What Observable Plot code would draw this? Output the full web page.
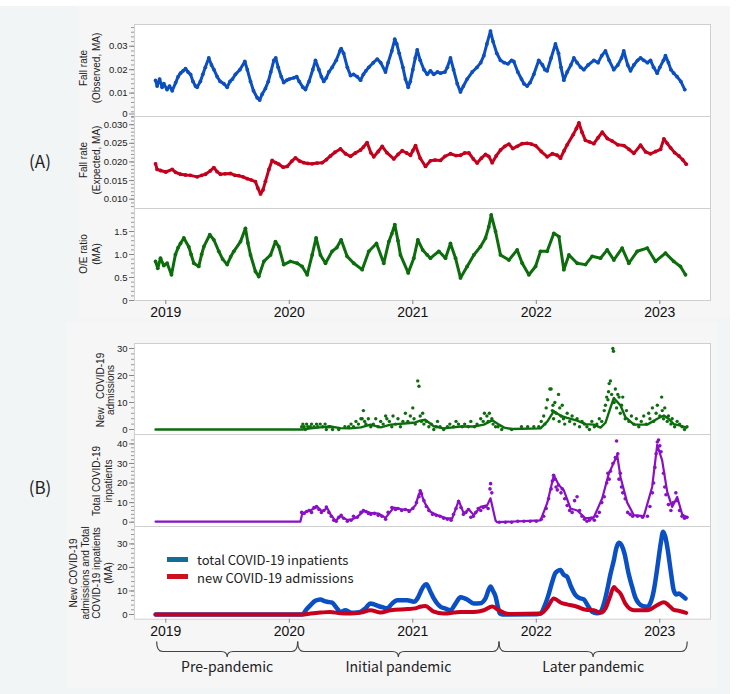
<!DOCTYPE html>
<html><head><meta charset="utf-8">
<script src="https://cdn.jsdelivr.net/npm/d3@7"></script>
<script src="https://cdn.jsdelivr.net/npm/@observablehq/plot@0.6"></script>
<style>
body{margin:0;background:#fff;}
#root{position:relative;width:738px;height:694px;overflow:hidden;background:#fff;font-family:"Liberation Sans",Arial,sans-serif;}
.bg{position:absolute;}
.plot{position:absolute;left:0;}
.ylab{position:absolute;transform:translate(-50%,-50%) rotate(-90deg);text-align:center;font-size:10px;line-height:13px;white-space:pre;color:#222;}
.panelLab{position:absolute;transform:translate(-50%,-50%);font-family:"Noto Sans CJK JP",sans-serif;font-size:17px;color:#222;}
.leg{position:absolute;font-family:"Noto Sans CJK JP",sans-serif;font-size:13px;color:#222;white-space:nowrap;transform:translateY(-50%);}
.sw{position:absolute;width:21px;height:5px;}
</style></head>
<body><div id="root">
<div class="bg" style="left:0;top:6px;width:730px;height:688px;background:#f1f5f5"></div>
<div class="bg" style="left:78px;top:6px;width:652px;height:312px;background:#f6f6f6"></div>
<div class="bg" style="left:67px;top:322px;width:650px;height:366px;background:#f6f6f6"></div>
</div>
<script>
// ---------------- DATA (time as decimal year) ----------------
const yearTicks = [2019, 2020, 2021, 2022, 2023];

// Fall rate (Observed, MA), per mille
const obsFallPerMille = [[2018.917,15.4],[2018.93,13],[2018.95,16],[2018.97,12.5],[2018.984,14],[2019.01,11.5],[2019.03,13],[2019.052,11],[2019.08,14.5],[2019.10,17],[2019.119,18.5],[2019.14,19.5],[2019.16,20.4],[2019.18,19],[2019.20,18],[2019.22,15],[2019.24,13],[2019.254,12.5],[2019.28,15],[2019.30,18],[2019.32,21],[2019.348,25],[2019.37,22],[2019.39,20],[2019.416,17],[2019.44,15],[2019.47,14],[2019.497,12.5],[2019.52,15],[2019.54,16],[2019.564,18],[2019.60,20],[2019.64,23.5],[2019.66,20],[2019.686,15],[2019.71,11],[2019.74,8],[2019.76,7],[2019.78,9.5],[2019.807,12],[2019.83,15],[2019.85,19],[2019.875,24],[2019.89,25],[2019.91,21],[2019.935,17],[2019.955,14.5],[2019.98,15.5],[2020.00,16],[2020.036,16.5],[2020.06,17],[2020.08,15],[2020.11,12.5],[2020.131,11.5],[2020.16,15],[2020.19,20],[2020.212,24],[2020.24,20],[2020.26,17],[2020.279,15],[2020.30,16.5],[2020.32,19],[2020.347,21],[2020.38,24],[2020.41,28],[2020.42,29],[2020.44,27],[2020.47,21],[2020.496,17.5],[2020.52,18],[2020.55,17],[2020.577,15.5],[2020.60,18],[2020.62,19.5],[2020.644,21],[2020.68,23],[2020.712,24.5],[2020.74,23],[2020.779,19],[2020.80,23],[2020.83,28],[2020.854,33],[2020.87,31],[2020.89,27],[2020.92,21],[2020.94,16],[2020.963,12.5],[2020.98,15],[2021.00,20],[2021.02,25],[2021.036,28.5],[2021.06,24],[2021.09,20],[2021.117,18],[2021.143,19.5],[2021.17,18],[2021.20,19],[2021.224,18.5],[2021.26,19],[2021.28,21],[2021.305,25],[2021.33,20],[2021.36,14],[2021.386,10.5],[2021.41,13],[2021.44,16],[2021.481,19],[2021.52,21],[2021.55,23],[2021.575,26],[2021.60,31],[2021.629,36.5],[2021.65,32],[2021.68,27],[2021.71,24],[2021.74,23],[2021.77,22.5],[2021.80,24],[2021.818,23.5],[2021.85,19],[2021.88,16],[2021.90,14],[2021.926,13],[2021.95,14.5],[2021.98,18],[2022.02,24],[2022.05,22],[2022.07,20],[2022.088,19.5],[2022.12,25],[2022.155,31],[2022.18,27],[2022.20,21],[2022.223,15.5],[2022.25,19],[2022.28,22],[2022.304,25],[2022.33,23],[2022.36,21],[2022.385,20],[2022.42,22],[2022.466,24],[2022.50,23],[2022.53,26],[2022.56,28],[2022.59,24],[2022.627,20],[2022.66,22],[2022.69,25],[2022.708,28],[2022.74,22],[2022.763,19.5],[2022.79,22],[2022.82,24],[2022.844,25],[2022.87,24],[2022.90,23],[2022.925,24],[2022.95,21],[2022.979,18.5],[2023.00,21],[2023.03,24],[2023.046,26],[2023.07,23],[2023.09,20],[2023.113,18.5],[2023.14,17],[2023.17,15],[2023.202,11.5]];

// Fall rate (Expected, MA), per mille
const expFallPerMille = [[2018.917,19.5],[2018.93,18],[2018.957,17.7],[2019.00,17.3],[2019.052,18.0],[2019.08,17.2],[2019.119,16.7],[2019.16,16.5],[2019.200,16.4],[2019.254,16.0],[2019.29,16.4],[2019.321,16.7],[2019.36,17.6],[2019.389,18.5],[2019.415,17.4],[2019.443,16.7],[2019.48,16.8],[2019.524,16.9],[2019.56,16.4],[2019.591,16.3],[2019.625,16],[2019.659,15.5],[2019.69,15.2],[2019.726,14.7],[2019.745,13],[2019.767,11.4],[2019.787,12.5],[2019.807,14.8],[2019.835,18],[2019.861,20.4],[2019.89,19.8],[2019.915,19.4],[2019.95,18.6],[2019.983,18.8],[2020.02,20.2],[2020.050,21.1],[2020.085,20.2],[2020.117,19.8],[2020.15,19.6],[2020.185,19.5],[2020.225,19.7],[2020.266,19.8],[2020.30,20.6],[2020.333,21.6],[2020.37,22.6],[2020.414,23.5],[2020.455,22.2],[2020.496,21.5],[2020.535,22.4],[2020.577,23.2],[2020.60,24],[2020.630,25.2],[2020.66,22.5],[2020.684,21.4],[2020.72,22.8],[2020.752,24.2],[2020.79,22.5],[2020.846,20.8],[2020.88,22],[2020.914,23],[2020.95,22.4],[2020.981,21.8],[2021.00,23.0],[2021.022,24.4],[2021.06,21],[2021.103,18.8],[2021.143,20.3],[2021.18,20.5],[2021.224,20.4],[2021.26,21.5],[2021.305,22.2],[2021.35,21.7],[2021.386,21.8],[2021.42,22.4],[2021.454,22.4],[2021.49,20.8],[2021.521,19.7],[2021.555,21],[2021.589,22],[2021.615,21.5],[2021.643,19.8],[2021.675,21.6],[2021.710,23.2],[2021.745,24.2],[2021.778,24.8],[2021.81,23.6],[2021.845,24.2],[2021.885,24.9],[2021.926,25.0],[2021.96,24.8],[2021.994,24.4],[2022.04,22.8],[2022.088,21.4],[2022.13,22.2],[2022.169,21.8],[2022.196,21.0],[2022.225,23],[2022.250,24.6],[2022.30,27.4],[2022.325,29],[2022.345,30.5],[2022.37,28],[2022.398,25.8],[2022.43,25.4],[2022.466,24.9],[2022.50,26.5],[2022.534,28],[2022.575,26.3],[2022.615,25.6],[2022.66,24.6],[2022.709,24.4],[2022.75,23.4],[2022.790,22.3],[2022.844,24.5],[2022.885,22.7],[2022.925,22.2],[2022.965,22.8],[2023.006,23.4],[2023.033,26.2],[2023.06,25],[2023.087,23.8],[2023.12,22.5],[2023.155,21.6],[2023.185,20.6],[2023.214,19.4]];

// O/E ratio (MA)
const oeRatio = [[2018.917,0.85],[2018.935,0.7],[2018.957,0.92],[2018.984,0.76],[2019.011,0.81],[2019.046,0.56],[2019.078,1.0],[2019.10,1.15],[2019.119,1.24],[2019.146,1.36],[2019.186,1.17],[2019.205,1.0],[2019.227,0.81],[2019.267,0.74],[2019.29,1.0],[2019.308,1.17],[2019.356,1.43],[2019.389,1.32],[2019.429,1.07],[2019.46,0.9],[2019.497,0.78],[2019.525,0.95],[2019.551,1.07],[2019.605,1.28],[2019.645,1.57],[2019.665,1.25],[2019.686,0.99],[2019.726,0.63],[2019.753,0.52],[2019.794,0.85],[2019.848,0.99],[2019.888,1.28],[2019.915,1.17],[2019.955,0.78],[2020.009,0.85],[2020.064,0.81],[2020.104,0.74],[2020.145,0.56],[2020.185,0.99],[2020.217,1.36],[2020.252,0.99],[2020.293,0.81],[2020.347,1.07],[2020.385,1.15],[2020.420,1.32],[2020.468,0.96],[2020.522,0.81],[2020.590,0.67],[2020.644,1.07],[2020.706,1.24],[2020.765,0.81],[2020.806,1.28],[2020.83,1.45],[2020.854,1.65],[2020.88,1.3],[2020.900,0.99],[2020.963,0.60],[2021.008,0.92],[2021.041,1.32],[2021.08,1.1],[2021.117,0.99],[2021.143,0.92],[2021.211,1.07],[2021.265,0.92],[2021.305,1.24],[2021.346,0.92],[2021.386,0.49],[2021.440,0.74],[2021.494,0.99],[2021.548,1.17],[2021.589,1.36],[2021.615,1.6],[2021.635,1.86],[2021.670,1.5],[2021.710,0.99],[2021.778,0.88],[2021.845,1.10],[2021.886,0.81],[2021.940,0.56],[2021.994,0.74],[2022.034,1.07],[2022.088,1.07],[2022.142,1.46],[2022.183,1.39],[2022.223,0.67],[2022.264,0.99],[2022.331,0.81],[2022.398,0.78],[2022.452,0.96],[2022.520,0.92],[2022.574,1.1],[2022.628,0.88],[2022.695,1.14],[2022.749,0.81],[2022.817,1.07],[2022.898,1.14],[2022.965,0.85],[2023.046,1.03],[2023.113,0.85],[2023.167,0.74],[2023.208,0.56]];

// New COVID-19 admissions (daily counts, scatter)
const newAdmDaily = [[2020.10,1],[2020.11,2],[2020.12,1],[2020.13,0],[2020.14,2],[2020.15,1],[2020.17,1],[2020.18,2],[2020.20,1],[2020.22,2],[2020.23,1],[2020.25,2],[2020.27,1],[2020.29,2],[2020.30,0],[2020.32,1],[2020.33,1],[2020.35,0],[2020.40,0],[2020.45,1],[2020.48,1],[2020.50,2],[2020.52,1],[2020.54,3],[2020.56,2],[2020.58,4],[2020.59,4],[2020.60,7],[2020.61,3],[2020.62,2],[2020.64,4],[2020.66,1],[2020.68,2],[2020.70,4],[2020.72,1],[2020.74,3],[2020.76,2],[2020.78,5],[2020.79,4],[2020.81,3],[2020.83,1],[2020.84,5],[2020.86,2],[2020.88,4],[2020.90,1],[2020.92,3],[2020.94,6],[2020.96,3],[2020.98,5],[2021.00,8],[2021.01,4],[2021.02,2],[2021.04,18],[2021.05,16],[2021.06,5],[2021.07,3],[2021.08,6],[2021.09,2],[2021.11,3],[2021.13,1],[2021.15,2],[2021.17,0],[2021.19,1],[2021.20,3],[2021.22,1],[2021.25,0],[2021.28,1],[2021.30,2],[2021.33,1],[2021.35,3],[2021.37,2],[2021.40,1],[2021.42,2],[2021.45,1],[2021.47,3],[2021.50,1],[2021.52,2],[2021.55,4],[2021.57,3],[2021.58,6],[2021.60,5],[2021.61,3],[2021.62,6],[2021.64,4],[2021.65,2],[2021.67,1],[2021.69,1],[2021.72,0],[2021.80,0],[2021.88,1],[2021.93,1],[2021.98,1],[2022.02,1],[2022.04,3],[2022.06,5],[2022.07,2],[2022.08,8],[2022.09,11],[2022.11,15],[2022.12,15],[2022.13,7],[2022.135,9],[2022.14,4],[2022.15,10],[2022.16,6],[2022.18,13],[2022.185,3],[2022.19,8],[2022.20,5],[2022.21,9],[2022.22,4],[2022.23,2],[2022.25,6],[2022.27,3],[2022.29,5],[2022.31,2],[2022.33,4],[2022.35,1],[2022.37,3],[2022.39,2],[2022.41,1],[2022.43,0],[2022.45,3],[2022.47,1],[2022.49,2],[2022.51,4],[2022.53,3],[2022.55,7],[2022.56,9],[2022.57,12],[2022.58,11],[2022.585,14],[2022.59,17],[2022.60,18],[2022.61,13],[2022.62,30],[2022.625,29],[2022.63,10],[2022.64,15],[2022.65,8],[2022.66,13],[2022.67,12],[2022.68,6],[2022.69,9],[2022.70,12],[2022.72,4],[2022.73,7],[2022.75,3],[2022.77,5],[2022.79,2],[2022.81,4],[2022.83,1],[2022.85,3],[2022.87,5],[2022.89,2],[2022.91,6],[2022.92,4],[2022.94,8],[2022.95,3],[2022.97,6],[2022.98,9],[2023.00,5],[2023.015,12],[2023.02,7],[2023.03,4],[2023.04,8],[2023.06,3],[2023.07,5],[2023.09,2],[2023.10,4],[2023.12,1],[2023.14,3],[2023.16,2],[2023.18,1],[2023.20,0],[2023.22,1]];

// Total COVID-19 inpatients (daily, scatter) and its moving line
const totalInpDaily = [[2020.10,5],[2020.12,4.5],[2020.14,5.5],[2020.16,6],[2020.18,5],[2020.20,7.5],[2020.22,8],[2020.24,6.5],[2020.26,5],[2020.28,6],[2020.30,7.8],[2020.32,5],[2020.34,3],[2020.36,1],[2020.38,0.5],[2020.40,2.5],[2020.42,3.5],[2020.44,2],[2020.47,0.5],[2020.50,1],[2020.52,3],[2020.55,2.5],[2020.58,5],[2020.60,6],[2020.62,5.5],[2020.64,4.5],[2020.66,4],[2020.69,4.5],[2020.72,3.5],[2020.75,3],[2020.78,1.5],[2020.80,5],[2020.83,7.5],[2020.86,6.5],[2020.88,7],[2020.91,6],[2020.94,6.5],[2020.97,5.5],[2021.00,7],[2021.03,10],[2021.05,13],[2021.06,16],[2021.07,14.5],[2021.09,11],[2021.11,8],[2021.13,6],[2021.16,4],[2021.19,3.5],[2021.22,3],[2021.25,2],[2021.28,1.5],[2021.31,1],[2021.33,4],[2021.35,7],[2021.37,10.5],[2021.39,7.5],[2021.41,4],[2021.43,5],[2021.45,6.5],[2021.47,2.5],[2021.49,3],[2021.51,5],[2021.53,7],[2021.55,6],[2021.57,7.5],[2021.59,8],[2021.61,7],[2021.625,17],[2021.63,19.7],[2021.64,15],[2021.70,0],[2021.75,0],[2021.80,0],[2021.85,0.5],[2021.90,0.5],[2021.95,0.5],[2022.00,0.5],[2022.04,1.5],[2022.06,3],[2022.08,7],[2022.10,12],[2022.12,17],[2022.13,21],[2022.14,24],[2022.15,22],[2022.16,18],[2022.17,16.5],[2022.18,19],[2022.20,15],[2022.21,17],[2022.23,12],[2022.25,8.5],[2022.27,6],[2022.29,5],[2022.31,11],[2022.33,13],[2022.35,6],[2022.37,3],[2022.39,1.5],[2022.41,0.5],[2022.43,1],[2022.45,2],[2022.47,1],[2022.49,3],[2022.51,5],[2022.53,10],[2022.55,13],[2022.57,20],[2022.58,25],[2022.59,22],[2022.60,26],[2022.62,30],[2022.64,33],[2022.65,41.5],[2022.66,35],[2022.67,22],[2022.68,25],[2022.69,18],[2022.70,15],[2022.72,12],[2022.74,5],[2022.76,4],[2022.78,3],[2022.82,3],[2022.86,2.5],[2022.90,3],[2022.92,8],[2022.94,15],[2022.95,20],[2022.96,28],[2022.97,35],[2022.98,41],[2022.99,42],[2023.00,39],[2023.01,36],[2023.03,25],[2023.04,18],[2023.05,14],[2023.07,9],[2023.09,6],[2023.11,10],[2023.13,15],[2023.14,11],[2023.16,6],[2023.18,3],[2023.20,2],[2023.22,2.5]];
const totalInpLine = [[2018.917,0.3],[2020.09,0.3],[2020.105,4.4],[2020.172,6.1],[2020.226,7.8],[2020.266,5.5],[2020.307,7.2],[2020.334,4],[2020.374,0.7],[2020.415,3.1],[2020.468,1.2],[2020.509,1.5],[2020.549,2.6],[2020.603,5.8],[2020.657,4.8],[2020.725,4.4],[2020.779,2.2],[2020.846,7.5],[2020.914,6.5],[2020.981,6.1],[2021.022,8.7],[2021.05,14.5],[2021.066,15.6],[2021.08,12.5],[2021.10,9.5],[2021.143,5.3],[2021.197,3.6],[2021.278,1.9],[2021.319,1.9],[2021.372,11],[2021.413,4.4],[2021.454,6.5],[2021.494,3.6],[2021.548,7.8],[2021.602,8.6],[2021.629,12.2],[2021.670,0.9],[2021.683,0],[2022.034,0.9],[2022.088,9.7],[2022.142,24],[2022.183,18.9],[2022.223,16.3],[2022.277,7],[2022.331,6],[2022.398,2],[2022.466,2.5],[2022.534,12.2],[2022.587,24.8],[2022.655,34.2],[2022.682,23],[2022.736,10],[2022.790,3.6],[2022.871,3.1],[2022.938,18],[2022.979,39.5],[2023.019,31.6],[2023.060,15.5],[2023.100,7.8],[2023.141,12.9],[2023.181,4],[2023.221,2.4]];

// Moving averages (bottom panel)
const totalInpMA = [[2018.917,0],[2020.104,0],[2020.14,2.2],[2020.172,4],[2020.21,5.8],[2020.253,6.4],[2020.28,5.8],[2020.307,5.4],[2020.347,5.0],[2020.38,3],[2020.415,1.1],[2020.455,1.8],[2020.48,1.2],[2020.509,0.7],[2020.545,0.8],[2020.577,1.1],[2020.62,2.8],[2020.657,4.7],[2020.69,4.2],[2020.725,3.5],[2020.76,3.0],[2020.793,2.6],[2020.83,4.5],[2020.874,6.1],[2020.915,6.1],[2020.955,6.1],[2021.008,5.4],[2021.04,7],[2021.062,9.5],[2021.085,11.8],[2021.11,12.8],[2021.14,10],[2021.170,6.8],[2021.20,4.5],[2021.224,3.3],[2021.265,2.5],[2021.305,1.8],[2021.345,4.5],[2021.386,7.3],[2021.415,7],[2021.440,6.4],[2021.494,4.7],[2021.548,4.8],[2021.59,7],[2021.629,11.9],[2021.650,10],[2021.670,7.7],[2021.69,3],[2021.705,0.4],[2021.724,0],[2022.00,0.1],[2022.034,0.4],[2022.07,4],[2022.102,8.9],[2022.13,14],[2022.156,17.7],[2022.196,18.9],[2022.22,17],[2022.250,16],[2022.28,12],[2022.318,8.2],[2022.35,7],[2022.385,6.4],[2022.42,3.5],[2022.452,1.1],[2022.49,0.5],[2022.520,1.1],[2022.55,5],[2022.574,10.3],[2022.60,17],[2022.628,23.1],[2022.65,28.5],[2022.668,30.5],[2022.69,29.5],[2022.714,26],[2022.745,18],[2022.776,11.8],[2022.80,7.5],[2022.830,4.7],[2022.865,3.5],[2022.898,3.3],[2022.925,5],[2022.952,10.3],[2022.975,18],[2022.992,24.5],[2023.01,31],[2023.027,35.2],[2023.045,33],[2023.065,27.4],[2023.09,18],[2023.113,10.3],[2023.135,8.5],[2023.154,8.9],[2023.18,8],[2023.208,6.8]];
const newAdmMA = [[2018.917,0],[2020.104,0],[2020.172,0.4],[2020.25,0.8],[2020.33,1.1],[2020.415,0.5],[2020.49,0.4],[2020.58,0.8],[2020.657,1.8],[2020.74,0.8],[2020.82,1.8],[2020.955,2.3],[2021.02,2.6],[2021.06,3.3],[2021.10,3.6],[2021.17,1.2],[2021.25,0.4],[2021.386,1.1],[2021.494,1.1],[2021.575,1.8],[2021.643,3.4],[2021.69,2],[2021.74,0.7],[2021.80,0.2],[2022.034,0.4],[2022.09,3],[2022.142,6.8],[2022.20,5],[2022.25,4.3],[2022.331,3.3],[2022.40,2],[2022.466,1.8],[2022.52,0.7],[2022.56,2.5],[2022.60,8],[2022.628,11.7],[2022.65,10.5],[2022.682,8.9],[2022.72,4.7],[2022.79,1.8],[2022.898,1.8],[2022.98,4],[2023.033,5.2],[2023.07,4],[2023.113,2],[2023.16,1.5],[2023.214,0.7]];

const periods = [
  {label: "Pre-pandemic", start: 2018.93, end: 2020.072},
  {label: "Initial pandemic", start: 2020.072, end: 2021.702},
  {label: "Later pandemic", start: 2021.702, end: 2023.226}
];

// ---------------- helpers ----------------
const X_DOMAIN = [2018.7466, 2023.4105];
const toObj = (arr, k = 1) => arr.map(([t, v]) => ({t, v: v * k}));
const C = {blue: "#0b4fc0", red: "#c4001c", green: "#0c6d0c", purple: "#8a0fc6", blueMA: "#0a50c4", redMA: "#c8001e"};
const root = document.getElementById("root");

function panel({top, bottom, yDomain, major, minor, fmt, marks, xAxis, zeroDy = 0}) {
  const mt = 12, mb = xAxis ? 30 : 12, h = bottom - top;
  const labOpts = {tickSize: 5, tickPadding: 2, tickFormat: fmt, label: null, stroke: "#888", fill: "#222", fontSize: 9.5};
  const axes = [Plot.axisY(minor, {tickSize: 3, tickFormat: () => "", label: null, stroke: "#999"})];
  if (zeroDy) {
    axes.push(Plot.axisY(major.filter(d => d !== 0), labOpts));
    axes.push(Plot.axisY([0], {...labOpts, dy: zeroDy}));
  } else {
    axes.push(Plot.axisY(major, labOpts));
  }
  if (xAxis) axes.push(Plot.axisX(yearTicks, {tickSize: 4, tickPadding: 3, tickFormat: d => String(d), label: null, stroke: "#888", fill: "#111", fontSize: 14}));
  const p = Plot.plot({
    width: 738, height: h + mt + mb,
    marginLeft: 134, marginRight: 28, marginTop: mt, marginBottom: mb,
    style: {background: "transparent", overflow: "visible", fontFamily: "Liberation Sans, Arial, sans-serif", fontSize: "10px"},
    x: {domain: X_DOMAIN, ...(xAxis ? {} : {axis: null})},
    y: {domain: yDomain},
    marks: [Plot.frame({fill: "white", stroke: "#cfcfcf"}), ...marks, ...axes]
  });
  p.classList.add("plot");
  p.style.position = "absolute";
  p.style.left = "0px";
  p.style.top = (top - mt) + "px";
  root.appendChild(p);
  return p;
}

function ylab(cx, cy, text, lh) {
  const d = document.createElement("div");
  d.className = "ylab";
  d.style.left = cx + "px"; d.style.top = cy + "px";
  if (lh) d.style.lineHeight = lh + "px";
  d.textContent = text;
  root.appendChild(d);
}

// ---------------- Panel A ----------------
const obs = toObj(obsFallPerMille, 0.001);
const exp = toObj(expFallPerMille, 0.001);
const oe = toObj(oeRatio);

panel({top: 24, bottom: 116, yDomain: [0, 0.0393], zeroDy: -2.5,
  major: [0, 0.01, 0.02, 0.03], minor: d3.range(0, 0.039, 0.002),
  fmt: d => d === 0 ? "0" : d.toFixed(2),
  marks: [Plot.line(obs, {x: "t", y: "v", stroke: C.blue, strokeWidth: 3}), Plot.dot(obs, {x: "t", y: "v", r: 1.9, fill: C.blue})]});
panel({top: 116, bottom: 208, yDomain: [0.0075, 0.0322],
  major: [0.010, 0.015, 0.020, 0.025, 0.030], minor: d3.range(0.008, 0.0321, 0.001),
  fmt: d => d.toFixed(3),
  marks: [Plot.line(exp, {x: "t", y: "v", stroke: C.red, strokeWidth: 3}), Plot.dot(exp, {x: "t", y: "v", r: 1.9, fill: C.red})]});
panel({top: 208, bottom: 300, yDomain: [0, 2.0], xAxis: true,
  major: [0, 0.5, 1.0, 1.5], minor: d3.range(0, 1.95, 0.1),
  fmt: d => d === 0 ? "0" : d.toFixed(1),
  marks: [Plot.line(oe, {x: "t", y: "v", stroke: C.green, strokeWidth: 3}), Plot.dot(oe, {x: "t", y: "v", r: 1.9, fill: C.green})]});

// ---------------- Panel B ----------------
const nad = toObj(newAdmDaily), nma = toObj(newAdmMA);
const tid = toObj(totalInpDaily), til = toObj(totalInpLine), tma = toObj(totalInpMA);

panel({top: 343.3, bottom: 434.3, yDomain: [-1.85, 31.85],
  major: [0, 10, 20, 30], minor: d3.range(0, 31, 2), fmt: d => String(d),
  marks: [Plot.line(nma, {x: "t", y: "v", stroke: C.green, strokeWidth: 2.4}), Plot.dot(nad, {x: "t", y: "v", r: 1.7, fill: C.green})]});
panel({top: 434.3, bottom: 526.3, yDomain: [-2.2, 44.8],
  major: [0, 10, 20, 30, 40], minor: d3.range(0, 44, 2), fmt: d => String(d),
  marks: [Plot.line(til, {x: "t", y: "v", stroke: C.purple, strokeWidth: 2.2}), Plot.dot(tid, {x: "t", y: "v", r: 1.8, fill: C.purple})]});
const pB3 = panel({top: 526.3, bottom: 619, yDomain: [-2.0, 37.4], xAxis: true,
  major: [0, 10, 20, 30], minor: d3.range(0, 37, 2), fmt: d => String(d),
  marks: [Plot.line(tma, {x: "t", y: "v", stroke: C.blueMA, strokeWidth: 4.5, curve: "monotone-x"}),
          Plot.line(nma, {x: "t", y: "v", stroke: C.redMA, strokeWidth: 4, curve: "monotone-x"})]});

// ---------------- labels ----------------
ylab(90, 68, "Fall rate\n(Observed, MA)");
ylab(90, 160, "Fall rate\n(Expected, MA)");
ylab(90, 254, "O/E ratio\n(MA)");
ylab(106, 390, "New   COVID-19\nadmissions", 10);
ylab(102.5, 481, "Total COVID-19\ninpatients", 12);
ylab(91, 573, "New COVID-19\nadmissions and Total\nCOVID-19 inpatients\n(MA)", 11.7);

for (const [txt, y] of [["(A)", 160], ["(B)", 486]]) {
  const d = document.createElement("div");
  d.className = "panelLab"; d.textContent = txt;
  d.style.left = "40px"; d.style.top = y + "px";
  root.appendChild(d);
}

// legend
for (const [txt, col, y] of [["total COVID-19 inpatients", "#126c95", 559.3], ["new COVID-19 admissions", "#cc1020", 576.7]]) {
  const s = document.createElement("div");
  s.className = "sw"; s.style.background = col; s.style.left = "167px"; s.style.top = (y - 2.5) + "px";
  root.appendChild(s);
  const d = document.createElement("div");
  d.className = "leg"; d.textContent = txt; d.style.left = "197px"; d.style.top = y + "px";
  root.appendChild(d);
}

// braces for periods using the plot's x scale
const xs = pB3.scale("x");
const svg = d3.select(root).append("svg").attr("width", 738).attr("height", 694)
  .style("position", "absolute").style("left", 0).style("top", 0).style("pointer-events", "none");
const yTop = 641.5, yMid = 651.5, yCusp = 657, r = 6;
for (const p of periods) {
  const x0 = xs.apply(p.start), x1 = xs.apply(p.end), xm = (x0 + x1) / 2;
  svg.append("path")
    .attr("d", `M${x0},${yTop} Q${x0},${yMid} ${x0 + r},${yMid} L${xm - r},${yMid} Q${xm},${yMid} ${xm},${yCusp} Q${xm},${yMid} ${xm + r},${yMid} L${x1 - r},${yMid} Q${x1},${yMid} ${x1},${yTop}`)
    .attr("fill", "none").attr("stroke", "#444").attr("stroke-width", 1.2);
  svg.append("text").attr("x", xm).attr("y", 672).attr("text-anchor", "middle")
    .attr("font-family", "Noto Sans CJK JP, sans-serif").attr("font-size", 14).attr("fill", "#222")
    .text(p.label);
}
</script>
</body></html>
